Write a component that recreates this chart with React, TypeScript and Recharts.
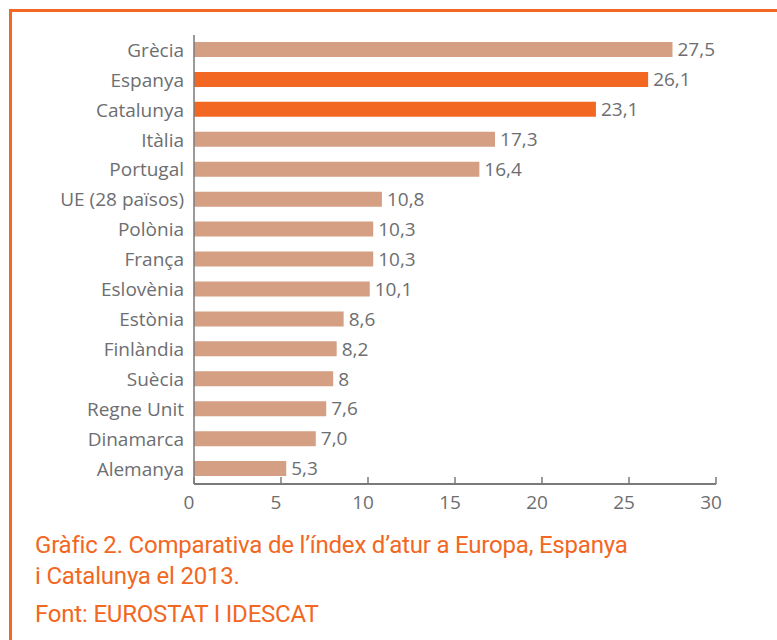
import React from 'react';
import { BarChart, Bar, XAxis, YAxis, Cell, LabelList } from 'recharts';

const countries = ['Grècia', 'Espanya', 'Catalunya', 'Itàlia', 'Portugal', 'UE (28 països)', 'Polònia', 'França', 'Eslovènia', 'Estònia', 'Finlàndia', 'Suècia', 'Regne Unit', 'Dinamarca', 'Alemanya'];
const rates = [27.5, 26.1, 23.1, 17.3, 16.4, 10.8, 10.3, 10.3, 10.1, 8.6, 8.2, 8, 7.6, 7.0, 5.3];
const rateLabels = ['27,5', '26,1', '23,1', '17,3', '16,4', '10,8', '10,3', '10,3', '10,1', '8,6', '8,2', '8', '7,6', '7,0', '5,3'];
const highlighted = ['Espanya', 'Catalunya'];
const xTicks = [0, 5, 10, 15, 20, 25, 30];

const data = countries.map((c, i) => ({ name: c, value: rates[i], label: rateLabels[i] }));

const GRAY = '#6d6e71';
const ORANGE = '#f26722';
const TAN = '#d49f82';
const FONT = '"Open Sans", sans-serif';

const XTick = (props: any) => {
  const { x, y, payload } = props;
  return (
    <g>
      <line x1={x} y1={y - 7} x2={x} y2={y} stroke="#7a7a7a" strokeWidth={1.5} />
      <text x={x - 5} y={y + 25} textAnchor="middle" fill={GRAY} fontSize={19} fontFamily={FONT}>
        {payload.value}
      </text>
    </g>
  );
};

export default function App() {
  return (
    <div style={{ position: 'absolute', left: 0, top: 0, width: 777, height: 640, background: '#fff', overflow: 'hidden' }}>
      <div style={{ position: 'absolute', left: 9, top: 9, width: 800, height: 700, borderTop: `3px solid ${ORANGE}`, borderLeft: `3px solid ${ORANGE}` }} />
      <div style={{ position: 'absolute', left: 0, top: 0 }}>
        <BarChart
          width={777}
          height={530}
          data={data}
          layout="vertical"
          margin={{ top: 35, right: 61, left: 0, bottom: 0 }}
          barSize={15}
        >
          <XAxis
            type="number"
            domain={[0, 30]}
            ticks={xTicks}
            height={46}
            tickSize={0}
            tickMargin={0}
            tickLine={false}
            axisLine={{ stroke: '#7a7a7a', strokeWidth: 2 }}
            tick={<XTick />}
            interval={0}
          />
          <YAxis
            type="category"
            dataKey="name"
            width={194}
            tickLine={false}
            tickSize={0}
            tickMargin={10}
            axisLine={{ stroke: '#7a7a7a', strokeWidth: 1.5 }}
            tick={{ fill: GRAY, fontSize: 19, fontFamily: FONT }}
            interval={0}
          />
          <Bar dataKey="value" isAnimationActive={false}>
            {data.map((d) => (
              <Cell key={d.name} fill={highlighted.includes(d.name) ? ORANGE : TAN} />
            ))}
            <LabelList dataKey="label" position="right" offset={5} fill={GRAY} fontSize={19} fontFamily={FONT} />
          </Bar>
        </BarChart>
      </div>
      <div style={{ position: 'absolute', left: 35, top: 530, color: ORANGE, fontFamily: 'Roboto, sans-serif', fontSize: 24, lineHeight: '31px', letterSpacing: '-0.2px' }}>
        <div>Gràfic 2. Comparativa de l’índex d’atur a Europa, Espanya</div>
        <div>i Catalunya el 2013.</div>
        <div style={{ marginTop: 7 }}>Font: EUROSTAT I IDESCAT</div>
      </div>
    </div>
  );
}
